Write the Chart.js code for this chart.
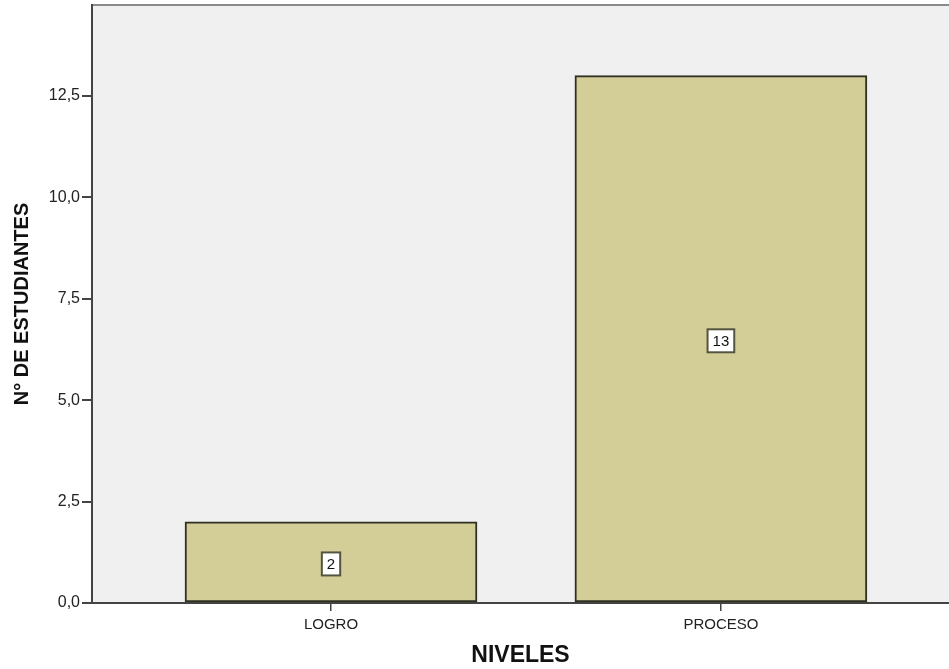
<!DOCTYPE html>
<html>
<head>
<meta charset="utf-8">
<script src="https://cdn.jsdelivr.net/npm/chart.js@4/dist/chart.umd.min.js"></script>
<style>
  html, body { margin: 0; padding: 0; background: #fff; overflow: hidden; }
</style>
</head>
<body>
<canvas id="myChart" width="949" height="669"></canvas>
<script>
const categories = ["LOGRO", "PROCESO"];
const students = [2, 13];
const yTicks = [0, 2.5, 5, 7.5, 10, 12.5];

const fontFamily = "'Liberation Sans', Arial, sans-serif";

// plot background + grey top frame line
const frame = {
  id: "frame",
  beforeDraw(chart) {
    const { ctx, chartArea: a } = chart;
    ctx.save();
    ctx.fillStyle = "#f0f0f0";
    ctx.fillRect(a.left, a.top, a.right - a.left, a.bottom - a.top);
    ctx.strokeStyle = "#8a8a8a";
    ctx.lineWidth = 2;
    ctx.beginPath();
    ctx.moveTo(a.left, a.top);
    ctx.lineTo(a.right, a.top);
    ctx.stroke();
    ctx.restore();
  },
};

// boxed count label in the middle of each bar
const boxLabels = {
  id: "boxLabels",
  afterDatasetsDraw(chart) {
    const { ctx } = chart;
    const meta = chart.getDatasetMeta(0);
    ctx.save();
    ctx.font = "15px " + fontFamily;
    ctx.textAlign = "center";
    ctx.textBaseline = "middle";
    meta.data.forEach((bar, i) => {
      const text = String(students[i]);
      const cx = bar.x;
      const cy = (bar.y + bar.base) / 2 + 2;
      const w = ctx.measureText(text).width + 10;
      const h = 23;
      ctx.fillStyle = "#ffffff";
      ctx.fillRect(cx - w / 2, cy - h / 2, w, h);
      ctx.strokeStyle = "#55553f";
      ctx.lineWidth = 2;
      ctx.strokeRect(cx - w / 2, cy - h / 2, w, h);
      ctx.fillStyle = "#111";
      ctx.fillText(text, cx, cy + 1);
    });
    ctx.restore();
  },
};

const ctx = document.getElementById("myChart").getContext("2d");
const myChart = new Chart(ctx, {
  type: "bar",
  data: {
    datasets: [
      {
        label: "N° DE ESTUDIANTES",
        data: students.map((v, i) => ({ x: i + 1, y: v })),
        backgroundColor: "#d3ce98",
        borderColor: "#2f2f22",
        borderWidth: 2,
        borderSkipped: false,
        barThickness: 292,
      },
    ],
  },
  options: {
    responsive: false,
    animation: false,
    devicePixelRatio: 1,
    layout: { padding: { top: 5, right: 0, left: 0, bottom: 0 } },
    plugins: {
      legend: { display: false },
      tooltip: { enabled: false },
    },
    scales: {
      x: {
        type: "linear",
        offset: false,
        min: 0.387,
        max: 2.585,
        afterBuildTicks: (scale) => {
          scale.ticks = categories.map((c, i) => ({ value: i + 1 }));
        },
        afterFit: (scale) => {
          scale.height = 66;
          scale.paddingLeft = 0;
          scale.paddingRight = 0;
        },
        ticks: {
          callback: (v) => categories[v - 1],
          color: "#222",
          font: { family: fontFamily, size: 15 },
          padding: 5,
          maxRotation: 0,
          autoSkip: false,
        },
        grid: {
          offset: false,
          drawOnChartArea: false,
          drawTicks: true,
          tickLength: 8,
          color: "#444",
          lineWidth: 1.5,
        },
        border: { display: true, color: "#444", width: 2 },
        title: {
          display: true,
          text: "NIVELES",
          color: "#111",
          font: { family: fontFamily, size: 23, weight: "bold" },
          padding: { top: 0, bottom: 0 },
        },
      },
      y: {
        min: 0,
        max: 14.74,
        afterBuildTicks: (scale) => {
          scale.ticks = yTicks.map((v) => ({ value: v }));
        },
        afterFit: (scale) => {
          scale.width = 92;
          scale.paddingTop = 0;
          scale.paddingBottom = 0;
        },
        ticks: {
          callback: (v) => v.toFixed(1).replace(".", ","),
          color: "#222",
          font: { family: fontFamily, size: 16 },
          padding: 2,
        },
        grid: {
          drawOnChartArea: false,
          drawTicks: true,
          tickLength: 10,
          color: "#444",
          lineWidth: 2,
        },
        border: { display: true, color: "#444", width: 2 },
        title: {
          display: true,
          text: "N° DE ESTUDIANTES",
          color: "#111",
          font: { family: fontFamily, size: 20, weight: "bold" },
          padding: { top: 10, bottom: 0 },
        },
      },
    },
  },
  plugins: [frame, boxLabels],
});
</script>
</body>
</html>
